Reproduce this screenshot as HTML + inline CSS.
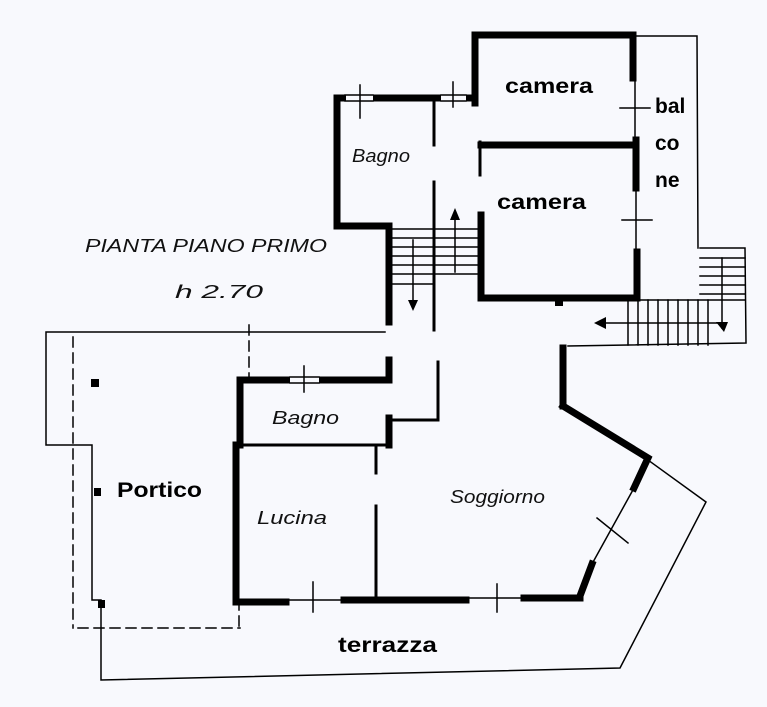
<!DOCTYPE html>
<html><head><meta charset="utf-8"><style>
html,body{margin:0;padding:0;background:#f8f9fd;}
svg{display:block}
.b{font-family:"Liberation Sans",sans-serif;font-weight:bold;font-size:21px;fill:#000}
.h{font-family:"Liberation Sans",sans-serif;font-style:italic;font-size:18px;fill:#111}
</style></head><body>
<svg width="767" height="707" viewBox="0 0 767 707" xmlns="http://www.w3.org/2000/svg">
<rect width="767" height="707" fill="#f8f9fd"/>
<g stroke="#000" fill="none" stroke-linecap="square">
<g stroke-width="7">
<polyline points="475,103 475,35 633,35 633,78"/>
<polyline points="475,98 337,98 337,226 389,226 389,322"/>
<line x1="481" y1="145" x2="635" y2="145"/>
<line x1="636" y1="140" x2="636" y2="188"/>
<polyline points="481,215 481,298 637,298 637,252"/>
<line x1="563" y1="348" x2="563" y2="406"/>
<polyline points="563,406 648,458 634,488"/>
<line x1="592" y1="564" x2="580" y2="596"/>
<polyline points="240,445 240,380 389,380 389,360"/>
<polyline points="236,445 236,602 286,602"/>
<line x1="344" y1="600" x2="466" y2="600"/>
<line x1="524" y1="598" x2="580" y2="598"/>
<line x1="389" y1="418" x2="389" y2="445"/>
</g>
<!-- window gaps -->
<g fill="#f8f9fd" stroke="none">
<rect x="346" y="94" width="27" height="8"/>
<rect x="441" y="94" width="25" height="8"/>
<rect x="290" y="376" width="29" height="8"/>
</g>
<g stroke-width="3">
<line x1="434" y1="100" x2="434" y2="145"/>
<line x1="434" y1="182" x2="434" y2="330"/>
<line x1="480" y1="142" x2="480" y2="175"/>
<line x1="438" y1="362" x2="438" y2="420"/>
<polyline points="389,420 438,420"/>
<line x1="240" y1="445" x2="390" y2="445"/>
<line x1="376" y1="445" x2="376" y2="473"/>
<line x1="376" y1="506" x2="376" y2="600"/>
</g>
<g stroke-width="1.5">
<line x1="345" y1="95" x2="373" y2="95"/><line x1="345" y1="101" x2="373" y2="101"/>
<line x1="360" y1="85" x2="360" y2="118"/>
<line x1="441" y1="95" x2="466" y2="95"/><line x1="441" y1="101" x2="466" y2="101"/>
<line x1="453" y1="82" x2="453" y2="107"/>
<line x1="290" y1="377" x2="319" y2="377"/><line x1="290" y1="383" x2="319" y2="383"/>
<line x1="304" y1="366" x2="304" y2="392"/>
<line x1="635" y1="78" x2="635" y2="140"/>
<line x1="636" y1="188" x2="636" y2="252"/>
<line x1="620" y1="108" x2="650" y2="108"/>
<line x1="622" y1="220" x2="652" y2="220"/>
<line x1="286" y1="600" x2="344" y2="600"/>
<line x1="313" y1="582" x2="313" y2="612"/>
<line x1="466" y1="598" x2="524" y2="598"/>
<line x1="497" y1="584" x2="497" y2="612"/>
<line x1="634" y1="488" x2="592" y2="564"/>
<line x1="597" y1="518" x2="628" y2="543"/>
</g>
<g stroke-width="1.5">
<polyline points="635,36 697,36 698,248"/>
<polyline points="700,248 745,248 746,343 568,346"/>
<polyline points="385,332 46,332 46,445 92,445 92,600 101,600 101,680 620,668 706,502 648,460"/>
<line x1="392" y1="229" x2="480" y2="229"/>
<line x1="392" y1="238" x2="480" y2="238"/>
<line x1="392" y1="247" x2="480" y2="247"/>
<line x1="392" y1="256" x2="480" y2="256"/>
<line x1="392" y1="265" x2="480" y2="265"/>
<line x1="392" y1="274" x2="480" y2="274"/>
<line x1="392" y1="284" x2="434" y2="284"/>
<line x1="455" y1="215" x2="455" y2="272"/>
<line x1="413" y1="240" x2="413" y2="305"/>
<line x1="700" y1="258" x2="745" y2="258"/>
<line x1="700" y1="267" x2="745" y2="267"/>
<line x1="700" y1="276" x2="745" y2="276"/>
<line x1="700" y1="285" x2="745" y2="285"/>
<line x1="700" y1="294" x2="745" y2="294"/>
<line x1="620" y1="300" x2="745" y2="300"/>
<line x1="722" y1="258" x2="722" y2="328"/>
<line x1="600" y1="323" x2="720" y2="323"/>
<line x1="628" y1="300" x2="628" y2="345"/><line x1="638" y1="300" x2="638" y2="345"/>
<line x1="648" y1="300" x2="648" y2="345"/><line x1="658" y1="300" x2="658" y2="345"/>
<line x1="668" y1="300" x2="668" y2="345"/><line x1="678" y1="300" x2="678" y2="345"/>
<line x1="688" y1="300" x2="688" y2="345"/><line x1="698" y1="300" x2="698" y2="345"/>
<line x1="708" y1="300" x2="708" y2="345"/>
</g>
<g stroke-width="1.5" stroke-dasharray="10,6">
<line x1="73" y1="337" x2="73" y2="628"/>
<line x1="78" y1="628" x2="240" y2="628"/>
<line x1="249" y1="325" x2="249" y2="378"/>
<line x1="239" y1="600" x2="239" y2="628"/>
</g>
</g>
<g fill="#000">
<polygon points="455,208 450,220 460,220"/>
<polygon points="413,311 408,300 418,300"/>
<polygon points="594,323 606,317 606,329"/>
<polygon points="724,332 716,322 728,322"/>
<rect x="91" y="379" width="8" height="8"/>
<rect x="94" y="488" width="7" height="8"/>
<rect x="98" y="600" width="7" height="8"/>
<rect x="555" y="300" width="8" height="6"/>
</g>
<text class="b" x="505" y="93" textLength="88" lengthAdjust="spacingAndGlyphs">camera</text>
<text class="b" x="497" y="209" textLength="89" lengthAdjust="spacingAndGlyphs">camera</text>
<text class="b" x="655" y="113">bal</text>
<text class="b" x="655" y="150">co</text>
<text class="b" x="655" y="187">ne</text>
<text class="b" x="117" y="497" textLength="85" lengthAdjust="spacingAndGlyphs">Portico</text>
<text class="b" x="338" y="652" textLength="99" lengthAdjust="spacingAndGlyphs">terrazza</text>
<text class="h" x="85" y="252" font-size="23" textLength="242" lengthAdjust="spacingAndGlyphs">PIANTA PIANO PRIMO</text>
<text class="h" x="175" y="298" font-size="22" textLength="88" lengthAdjust="spacingAndGlyphs">h 2.70</text>
<text class="h" x="352" y="162" textLength="58" lengthAdjust="spacingAndGlyphs">Bagno</text>
<text class="h" x="272" y="424" textLength="67" lengthAdjust="spacingAndGlyphs">Bagno</text>
<text class="h" x="257" y="524" textLength="70" lengthAdjust="spacingAndGlyphs">Lucina</text>
<text class="h" x="450" y="503" textLength="95" lengthAdjust="spacingAndGlyphs">Soggiorno</text>
</svg>
</body></html>
